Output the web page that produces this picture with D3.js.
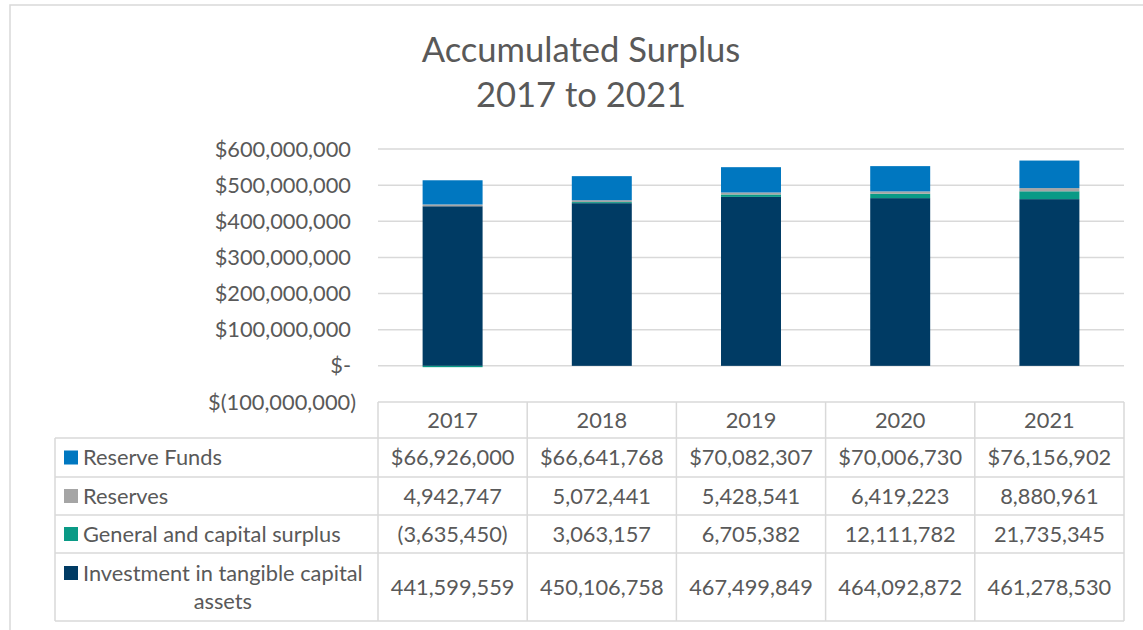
<!DOCTYPE html>
<html>
<head>
<meta charset="utf-8">
<script src="https://cdn.jsdelivr.net/npm/d3@7"></script>
<style>
  html, body { margin: 0; padding: 0; background: #fff; }
  svg { display: block; font-family: Lato, "Open Sans", sans-serif; }
</style>
</head>
<body>
<svg id="chart" width="1143" height="630"></svg>
<script>
// ---- data ----
const years = ["2017", "2018", "2019", "2020", "2021"];
const seriesNames = ["Reserve Funds", "Reserves", "General and capital surplus", "Investment in tangible capital assets"];
const reserveFunds = [66926000, 66641768, 70082307, 70006730, 76156902];
const reserves = [4942747, 5072441, 5428541, 6419223, 8880961];
const generalSurplus = [-3635450, 3063157, 6705382, 12111782, 21735345];
const investment = [441599559, 450106758, 467499849, 464092872, 461278530];
const yTicks = [-100000000, 0, 100000000, 200000000, 300000000, 400000000, 500000000, 600000000];
const titleLines = ["Accumulated Surplus", "2017 to 2021"];

const colors = {
  "Reserve Funds": "#0077C0",
  "Reserves": "#A5A5A5",
  "General and capital surplus": "#0A9A86",
  "Investment in tangible capital assets": "#003B64"
};
const seriesValues = {
  "Reserve Funds": reserveFunds,
  "Reserves": reserves,
  "General and capital surplus": generalSurplus,
  "Investment in tangible capital assets": investment
};

const svg = d3.select("#chart");
const textColor = "#595959";
const lineColor = "#D9D9D9";
const fs = 21.8;

// chart border
svg.append("path")
  .attr("d", "M10,630 L10,5 L1143,5")
  .attr("fill", "none").attr("stroke", lineColor).attr("stroke-width", 1.5);

// title
svg.append("g").selectAll("text").data(titleLines).join("text")
  .attr("x", 581).attr("y", (d, i) => 62 + i * 45)
  .attr("text-anchor", "middle")
  .attr("font-size", 34.6).attr("fill", textColor)
  .text(d => d);

// scales
const x = d3.scaleBand().domain(years).range([378, 1124]).paddingInner(0.598).paddingOuter(0.299);
const y = d3.scaleLinear().domain([-100000000, 600000000]).range([402, 149]);

// gridlines
svg.append("g").selectAll("line").data(yTicks.filter(t => t > -100000000)).join("line")
  .attr("x1", 378).attr("x2", 1124)
  .attr("y1", d => y(d)).attr("y2", d => y(d))
  .attr("stroke", lineColor).attr("stroke-width", 1.5);

// y axis labels
const fmt = d3.format(",");
const tickFmt = v => v > 0 ? "$" + fmt(v) : (v === 0 ? "$-" : "$(" + fmt(-v) + ")");
svg.append("g").selectAll("text").data(yTicks).join("text")
  .attr("x", d => d < 0 ? 356 : 351)
  .attr("y", d => y(d))
  .attr("dy", "0.35em")
  .attr("text-anchor", "end")
  .attr("font-size", fs).attr("fill", textColor)
  .text(tickFmt);

// stacked bars
const table = years.map((yr, i) => {
  const o = { year: yr };
  seriesNames.forEach(s => o[s] = seriesValues[s][i]);
  return o;
});
const stackOrder = seriesNames.slice().reverse(); // investment at bottom
const stacked = d3.stack().keys(stackOrder).offset(d3.stackOffsetDiverging)(table);

svg.append("g").selectAll("g").data(stacked).join("g")
  .attr("fill", d => colors[d.key])
  .selectAll("rect").data(d => d).join("rect")
  .attr("x", d => x(d.data.year))
  .attr("width", x.bandwidth())
  .attr("y", d => y(Math.max(d[0], d[1])))
  .attr("height", d => Math.abs(y(d[0]) - y(d[1])));

// data table
const step = x.step();
const colLeft = yr => x(yr) + x.bandwidth() / 2 - step / 2;
const tableLeft = 55, tableRight = 1124;
const headerTop = 402;
const rowEdges = [438, 477, 515, 553, 621];
const g = svg.append("g");

g.append("line").attr("x1", colLeft(years[0])).attr("x2", tableRight)
  .attr("y1", headerTop).attr("y2", headerTop);
rowEdges.forEach(ry => g.append("line").attr("x1", tableLeft).attr("x2", tableRight).attr("y1", ry).attr("y2", ry));
g.append("line").attr("x1", tableLeft).attr("x2", tableLeft).attr("y1", rowEdges[0]).attr("y2", rowEdges[4]);
years.forEach(yr => g.append("line").attr("x1", colLeft(yr)).attr("x2", colLeft(yr)).attr("y1", headerTop).attr("y2", rowEdges[4]));
g.append("line").attr("x1", tableRight).attr("x2", tableRight).attr("y1", headerTop).attr("y2", rowEdges[4]);
g.selectAll("line").attr("stroke", lineColor).attr("stroke-width", 1.5);

// header
g.append("g").selectAll("text").data(years).join("text")
  .attr("x", d => x(d) + x.bandwidth() / 2)
  .attr("y", (headerTop + rowEdges[0]) / 2)
  .attr("dy", "0.35em").attr("text-anchor", "middle")
  .attr("font-size", fs).attr("fill", textColor)
  .text(d => d);

const valFmt = (v, dollar) => {
  const s = fmt(Math.abs(v));
  const t = (dollar ? "$" : "") + s;
  return v < 0 ? "(" + t + ")" : t;
};

seriesNames.forEach((s, ri) => {
  const top = rowEdges[ri], bot = rowEdges[ri + 1];
  const mid = (top + bot) / 2;
  const wrapped = s === "Investment in tangible capital assets";
  const firstLineY = wrapped ? mid - 14 : mid;
  g.append("rect").attr("x", 64).attr("y", firstLineY - 7).attr("width", 14).attr("height", 14)
    .attr("fill", colors[s]);
  if (wrapped) {
    const t1 = g.append("text").attr("x", 83).attr("y", firstLineY).attr("dy", "0.35em")
      .attr("font-size", fs).attr("fill", textColor).text("Investment in tangible capital");
    const w = t1.node().getComputedTextLength();
    g.append("text").attr("x", 83 + w / 2).attr("y", mid + 14).attr("dy", "0.35em")
      .attr("text-anchor", "middle")
      .attr("font-size", fs).attr("fill", textColor).text("assets");
  } else {
    g.append("text").attr("x", 83).attr("y", mid).attr("dy", "0.35em")
      .attr("font-size", fs).attr("fill", textColor).text(s);
  }
  g.append("g").selectAll("text").data(seriesValues[s]).join("text")
    .attr("x", (d, i) => x(years[i]) + x.bandwidth() / 2)
    .attr("y", mid).attr("dy", "0.35em").attr("text-anchor", "middle")
    .attr("font-size", fs).attr("fill", textColor)
    .text(d => valFmt(d, s === "Reserve Funds"));
});
</script>
</body>
</html>
